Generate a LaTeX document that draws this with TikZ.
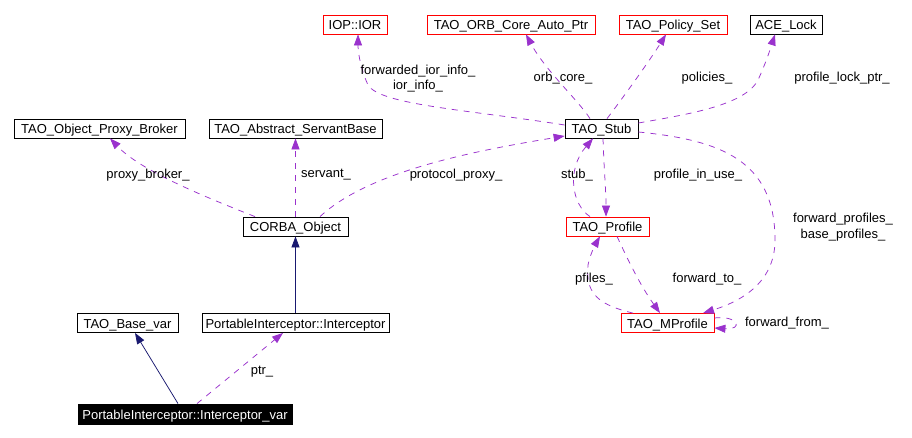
\documentclass[tikz,border=0pt]{standalone}
\usepackage{fontspec}
\setmainfont{Liberation Sans}
\usetikzlibrary{arrows.meta,calc}
\definecolor{usecol}{HTML}{9A32CD}
\definecolor{inhcol}{HTML}{191970}
\begin{document}
\begin{tikzpicture}[x=1pt,y=-1pt,
 every node/.style={font=\fontsize{13}{15.5}\selectfont},
 cls/.style={draw=black, line width=0.8pt, inner sep=0pt, minimum height=19pt, text height=11pt, text depth=0pt, anchor=center},
 redcls/.style={cls, draw=red},
 use/.style={draw=usecol, line width=0.75pt, dash pattern=on 6pt off 6pt, -{Triangle[length=11pt,width=8pt]}},
 inh/.style={draw=inhcol, line width=0.75pt, -{Triangle[length=11pt,width=8pt]}},
 lbl/.style={inner sep=0pt, align=center}
]
\fill[white] (0,0) rectangle (912,438);
\useasboundingbox (0,0) rectangle (912,438);

% classes
\node[redcls, minimum width=64pt] (ior) at (355,24.5) {IOP::IOR};
\node[redcls, minimum width=168pt] (orb) at (511,24.5) {TAO\_ORB\_Core\_Auto\_Ptr};
\node[redcls, minimum width=108pt] (pol) at (673,24.5) {TAO\_Policy\_Set};
\node[cls, minimum width=72pt] (ace) at (786,24.5) {ACE\_Lock};
\node[cls, minimum width=171pt] (opb) at (99.5,128.5) {TAO\_Object\_Proxy\_Broker};
\node[cls, minimum width=173pt] (asb) at (295.5,128.5) {TAO\_Abstract\_ServantBase};
\node[cls, minimum width=105pt] (corba) at (295.5,226.5) {CORBA\_Object};
\node[cls, minimum width=73pt] (stub) at (601.5,128.5) {TAO\_Stub};
\node[redcls, minimum width=83pt] (prof) at (607.5,226.5) {TAO\_Profile};
\node[redcls, minimum width=93pt] (mprof) at (667.5,323) {TAO\_MProfile};
\node[cls, minimum width=101pt] (basevar) at (127.5,323) {TAO\_Base\_var};
\node[cls, minimum width=187pt] (intc) at (295.5,323) {PortableInterceptor::Interceptor};
\node[cls, fill=black, text=white, minimum width=214pt, minimum height=20pt] (ivar) at (185,414) {PortableInterceptor::Interceptor\_var};

% usage edges
\draw[use] ($(stub.west)+(0,-3.5)$) .. controls (470,110) and (380,105) .. (368,85)
  .. controls (362,72) and (358,55) .. ($(ior.south)+(3,0)$);
\draw[use] ($(stub.north)+(-11.5,0)$) .. controls (578,100) and (545,70) .. ($(orb.south)+(15,0)$);
\draw[use] ($(stub.north)+(5.5,0)$) .. controls (625,95) and (650,60) .. ($(pol.south)+(-7,0)$);
\draw[use] ($(stub.east)+(0,-5.5)$) .. controls (690,114) and (745,105) .. (758,80)
  .. controls (765,65) and (770,50) .. ($(ace.south)+(-11,0)$);
\draw[use] ($(corba.north)+(-40.5,0)$) .. controls (200,195) and (140,170) .. ($(opb.south)+(10.5,0)$);
\draw[use] (corba.north) -- (asb.south);
\draw[use] ($(corba.north)+(24.5,0)$) .. controls (370,170) and (480,150) .. ($(stub.west)+(0,7.5)$);
\draw[use] ($(prof.north)+(-17.5,0)$) .. controls (572,205) and (566,170) .. ($(stub.south)+(-8.5,0)$);
\draw[use] ($(stub.south)+(1.5,0)$) .. controls (604,170) and (606,190) .. ($(prof.north)+(-1.5,0)$);
\draw[use] ($(stub.east)+(0,3.5)$) .. controls (720,140) and (775,160) .. (775,240)
  .. controls (775,280) and (745,300) .. ($(mprof.north)+(35.5,0)$);
\draw[use] ($(mprof.north)+(-34.5,0)$) .. controls (600,305) and (585,295) .. (588,265)
  .. controls (590,255) and (595,245) .. ($(prof.south)+(-7.5,0)$);
\draw[use] ($(prof.south)+(9.5,0)$) .. controls (628,260) and (640,285) .. ($(mprof.north)+(-7.5,0)$);
\draw[use] ($(mprof.east)+(0,-5)$) .. controls (738,315) and (744,330) .. ($(mprof.east)+(0,5)$);
\draw[use] ($(ivar.north)+(12,0)$) -- ($(intc.south)+(-12.5,0)$);

% inheritance edges
\draw[inh] (intc.north) -- (corba.south);
\draw[inh] ($(ivar.north)+(-7,0)$) -- ($(basevar.south)+(7.5,0)$);

% labels
\node[lbl] (l1) at (418,78.5) {forwarded\_ior\_info\_\\ior\_info\_};
\node[lbl] (l2) at (563,78) {orb\_core\_};
\node[lbl] (l3) at (707,78) {policies\_};
\node[lbl] (l4) at (842,78) {profile\_lock\_ptr\_};
\node[lbl] (l5) at (148,175) {proxy\_broker\_};
\node[lbl] (l6) at (326,175) {servant\_};
\node[lbl] (l7) at (456,175) {protocol\_proxy\_};
\node[lbl] (l8) at (577,175) {stub\_};
\node[lbl] (l9) at (698,175) {profile\_in\_use\_};
\node[lbl] (l10) at (843,227) {forward\_profiles\_\\base\_profiles\_};
\node[lbl] (l11) at (594,279) {pfiles\_};
\node[lbl] (l12) at (707,279) {forward\_to\_};
\node[lbl] (l13) at (787,323) {forward\_from\_};
\node[lbl] (l14) at (262,372) {ptr\_};
\end{tikzpicture}
\end{document}
